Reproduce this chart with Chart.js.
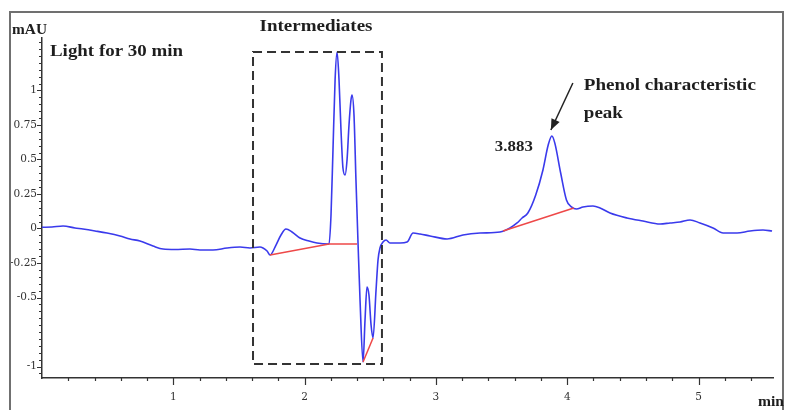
<!DOCTYPE html>
<html>
<head>
<meta charset="utf-8">
<script src="https://cdn.jsdelivr.net/npm/chart.js@4"></script>
<style>
  html, body { margin: 0; padding: 0; background: #fff; }
  canvas { display: block; }
</style>
</head>
<body>
<canvas id="chromatogram" width="785" height="410"></canvas>
<script>
// retention time (min) and detector signal (mAU)
const times = [
	0, 0.076, 0.160, 0.251, 0.312, 0.404, 0.495, 0.594, 0.670, 0.746,
	0.845, 0.922, 1.013, 1.127, 1.203, 1.302, 1.409, 1.508, 1.584, 1.660,
	1.683, 1.714, 1.737, 1.782, 1.820, 1.858, 1.904, 1.965, 2.034, 2.094,
	2.186, 2.201, 2.216, 2.232, 2.247, 2.262, 2.277, 2.292, 2.308, 2.323,
	2.338, 2.353, 2.361, 2.376, 2.391, 2.407, 2.422, 2.445, 2.460, 2.475,
	2.490, 2.506, 2.521, 2.544, 2.559, 2.574, 2.597, 2.620, 2.650, 2.727,
	2.780, 2.826, 2.879, 2.955, 3.085, 3.206, 3.336, 3.488, 3.564, 3.618,
	3.656, 3.700, 3.760, 3.815, 3.855, 3.883, 3.905, 3.950, 3.994, 4.032,
	4.070, 4.120, 4.196, 4.250, 4.326, 4.455, 4.577, 4.707, 4.783, 4.859,
	4.935, 5.011, 5.110, 5.187, 5.293, 5.392, 5.491, 5.560
];
const absorbance = [
	0.009, 0.011, 0.018, 0.004, -0.004, -0.018, -0.033, -0.054, -0.076, -0.091,
	-0.127, -0.149, -0.152, -0.149, -0.156, -0.156, -0.141, -0.134, -0.141, -0.134,
	-0.141, -0.163, -0.192, -0.120, -0.047, -0.004, -0.025, -0.069, -0.091, -0.105,
	-0.112, 0.098, 0.569, 1.076, 1.279, 1.076, 0.714, 0.438, 0.388, 0.496,
	0.750, 0.931, 0.967, 0.822, 0.351, -0.112, -0.518, -0.967, -0.663, -0.424,
	-0.482, -0.699, -0.793, -0.446, -0.228, -0.141, -0.098, -0.083, -0.105, -0.105,
	-0.098, -0.033, -0.040, -0.054, -0.076, -0.047, -0.033, -0.025, 0.004, 0.040,
	0.076, 0.112, 0.243, 0.424, 0.605, 0.670, 0.620, 0.402, 0.207, 0.156,
	0.141, 0.156, 0.163, 0.149, 0.112, 0.076, 0.054, 0.033, 0.040, 0.047,
	0.062, 0.040, 0.004, -0.033, -0.033, -0.018, -0.011, -0.018
];

// integration baselines
const baseInterX = [1.737, 2.186, 2.399];
const baseInterY = [-0.192, -0.112, -0.112];
const baseNegX = [2.445, 2.521];
const baseNegY = [-0.967, -0.793];
const basePhenolX = [3.511, 4.05];
const basePhenolY = [-0.018, 0.149];

const yTickLabels = [1, 0.75, 0.5, 0.25, 0, -0.25, -0.5, -1];
const xTickLabels = [1, 2, 3, 4, 5];

const phenolPeakTime = 3.883;
const phenolPeakHeight = 0.670;

// dashed box round the intermediates
const boxTimes = [1.607, 2.589];
const boxLevels = [1.279, -0.982];

const serif = '"Liberation Serif", "Times New Roman", serif';

function toPoints(xs, ys) {
	return xs.map((x, i) => ({ x: x, y: ys[i] }));
}

function baselineSet(xs, ys) {
	return {
		data: toPoints(xs, ys),
		borderColor: "rgb(238, 72, 72)",
		borderWidth: 1.5,
		pointRadius: 0,
		tension: 0,
		order: 0,
	};
}

// bold label squeezed or widened to a given width
function boldText(ctx, text, left, midY, size, width) {
	ctx.font = "bold " + size + "px " + serif;
	const w = ctx.measureText(text).width;
	ctx.save();
	ctx.translate(left, midY);
	ctx.scale(width / w, 1);
	ctx.textBaseline = "middle";
	ctx.textAlign = "left";
	ctx.fillStyle = "#1e1e1e";
	ctx.fillText(text, 0, 0);
	ctx.restore();
}

const decorations = {
	id: "decorations",
	afterDraw(chart) {
		const ctx = chart.ctx;
		const x = chart.scales.x;
		const y = chart.scales.y;
		const area = chart.chartArea;
		ctx.save();

		// outer frame
		ctx.strokeStyle = "#707070";
		ctx.lineWidth = 2;
		ctx.strokeRect(10, 12, 773, 420);

		// x tick marks, every 0.2 min
		ctx.strokeStyle = "#333";
		ctx.lineWidth = 1.2;
		ctx.beginPath();
		for (let i = 1; i * 0.2 < x.max; i++) {
			const px = Math.round(x.getPixelForValue(i * 0.2)) + 0.5;
			const len = i % 5 === 0 ? 7 : 3;
			ctx.moveTo(px, area.bottom);
			ctx.lineTo(px, area.bottom + len);
		}
		// y tick marks, every 0.05 mAU
		for (let i = -21; i * 0.05 <= y.max; i++) {
			const v = i * 0.05;
			const py = Math.round(y.getPixelForValue(v)) + 0.5;
			const labelled = yTickLabels.some((t) => Math.abs(t - v) < 1e-6);
			ctx.moveTo(area.left, py);
			ctx.lineTo(area.left - (labelled ? 5 : 3), py);
		}
		ctx.stroke();

		// intermediates box
		const bx0 = x.getPixelForValue(boxTimes[0]);
		const bx1 = x.getPixelForValue(boxTimes[1]);
		const by0 = y.getPixelForValue(boxLevels[0]);
		const by1 = y.getPixelForValue(boxLevels[1]);
		ctx.setLineDash([9, 5]);
		ctx.strokeStyle = "#333";
		ctx.lineWidth = 2;
		ctx.strokeRect(bx0, by0, bx1 - bx0, by1 - by0);
		ctx.setLineDash([]);
		boldText(ctx, "Intermediates", (bx0 + bx1) / 2 - 58, by0 - 25, 16, 113);

		// phenol peak arrow and labels
		const peakX = x.getPixelForValue(phenolPeakTime);
		const peakY = y.getPixelForValue(phenolPeakHeight);
		const tip = { x: peakX - 1, y: peakY - 6 };
		const tail = { x: peakX + 21, y: peakY - 53 };
		ctx.strokeStyle = "#222";
		ctx.fillStyle = "#222";
		ctx.lineWidth = 1.5;
		ctx.beginPath();
		ctx.moveTo(tail.x, tail.y);
		ctx.lineTo(tip.x, tip.y);
		ctx.stroke();
		const ang = Math.atan2(tip.y - tail.y, tip.x - tail.x);
		ctx.beginPath();
		ctx.moveTo(tip.x, tip.y);
		ctx.lineTo(tip.x - 11 * Math.cos(ang) + 4.5 * Math.sin(ang), tip.y - 11 * Math.sin(ang) - 4.5 * Math.cos(ang));
		ctx.lineTo(tip.x - 11 * Math.cos(ang) - 4.5 * Math.sin(ang), tip.y - 11 * Math.sin(ang) + 4.5 * Math.cos(ang));
		ctx.closePath();
		ctx.fill();

		boldText(ctx, "Phenol characteristic", tail.x + 11, tail.y + 3, 16, 172);
		boldText(ctx, "peak", tail.x + 11, tail.y + 31, 16, 39);
		boldText(ctx, phenolPeakTime.toFixed(3), peakX - 57, peakY + 11, 14, 38);

		// axis titles and caption
		boldText(ctx, "mAU", 12, 30, 15, 35);
		boldText(ctx, "Light for 30 min", 50, 52, 16, 133);
		boldText(ctx, "min", 758, 402, 14, 26);

		ctx.restore();
	},
};

new Chart(document.getElementById("chromatogram"), {
	type: "line",
	data: {
		datasets: [
			baselineSet(baseInterX, baseInterY),
			baselineSet(baseNegX, baseNegY),
			baselineSet(basePhenolX, basePhenolY),
			{
				data: toPoints(times, absorbance),
				borderColor: "rgb(58, 58, 236)",
				borderWidth: 1.6,
				pointRadius: 0,
				cubicInterpolationMode: "monotone",
				order: 1,
			},
		],
	},
	options: {
		responsive: false,
		animation: false,
		devicePixelRatio: 1,
		layout: { padding: { top: 38, right: 12, left: 0, bottom: 0 } },
		plugins: {
			legend: { display: false },
			tooltip: { enabled: false },
		},
		scales: {
			x: {
				type: "linear",
				min: 0,
				max: 5.567,
				afterFit: (scale) => { scale.height = 32; },
				afterBuildTicks: (scale) => {
					scale.ticks = xTickLabels.map((v) => ({ value: v }));
				},
				grid: { display: false, drawTicks: false },
				border: { display: true, color: "#333", width: 1.5 },
				ticks: {
					padding: 13,
					color: "#333",
					font: { family: "DejaVu Serif", size: 10.5 },
					maxRotation: 0,
					callback: (v) => String(v),
				},
			},
			y: {
				type: "linear",
				min: -1.083,
				max: 1.38,
				afterFit: (scale) => { scale.width = 42; },
				afterBuildTicks: (scale) => {
					scale.ticks = yTickLabels.map((v) => ({ value: v }));
				},
				grid: { display: false, drawTicks: false },
				border: { display: true, color: "#333", width: 1.5 },
				ticks: {
					padding: 5,
					color: "#333",
					font: { family: "DejaVu Serif", size: 10.5 },
					callback: (v) => String(v),
				},
			},
		},
	},
	plugins: [decorations],
});
</script>
</body>
</html>
